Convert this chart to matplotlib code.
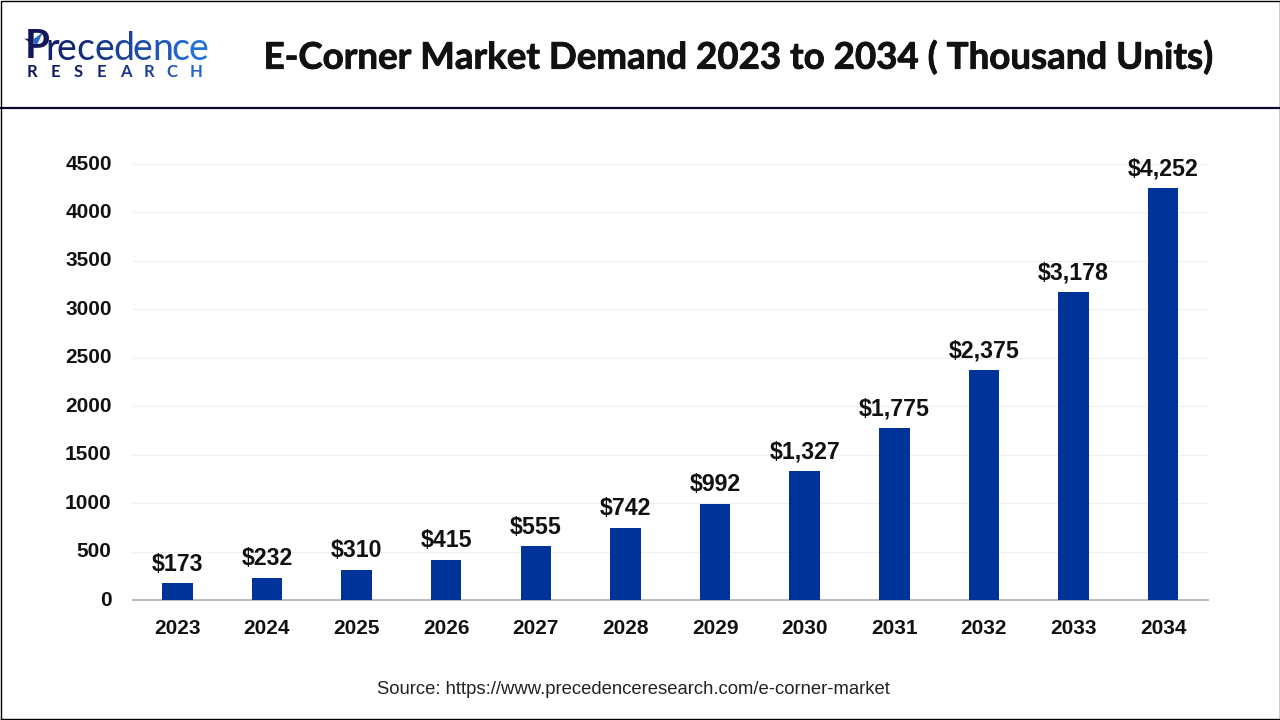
import matplotlib
matplotlib.use("Agg")
import matplotlib.pyplot as plt
import matplotlib.patheffects as pe
from matplotlib.lines import Line2D
from matplotlib.patches import Polygon

years = ['2023', '2024', '2025', '2026', '2027', '2028', '2029', '2030', '2031', '2032', '2033', '2034']
values = [173, 232, 310, 415, 555, 742, 992, 1327, 1775, 2375, 3178, 4252]
labels = ['$173', '$232', '$310', '$415', '$555', '$742', '$992', '$1,327', '$1,775', '$2,375', '$3,178', '$4,252']
y_ticks = [0, 500, 1000, 1500, 2000, 2500, 3000, 3500, 4000, 4500]

logo_top = 'recedence'
logo_top_colors = ['#14206a', '#14266f', '#152e7c', '#17388c', '#1a439c', '#1c4dac', '#1e58bc', '#2065cc', '#2270dc']
logo_bottom = 'RESEARCH'
logo_bottom_colors = ['#10185a', '#10185a', '#12206a', '#14287a', '#18348a', '#1c429c', '#2052b4', '#2464c8']

W, H = 1280, 720
fig = plt.figure(figsize=(12.8, 7.2), dpi=100)
fig.patch.set_facecolor('white')

# axes placed on the pixel box of the plot area
ax = fig.add_axes([132.5 / W, 1 - 600 / H, (1208 - 132.5) / W, (600 - 164) / H])
ax.bar(range(12), values, width=0.34, color='#00339a', zorder=3)
ax.set_xlim(-0.5, 11.5)
ax.set_ylim(0, 4500)
ax.set_yticks(y_ticks)
ax.set_xticks(range(12))
ax.set_xticklabels(years)
ax.tick_params(axis='both', length=0, labelsize=15, labelcolor='#111111')
ax.tick_params(axis='x', pad=13.5)
ax.tick_params(axis='y', pad=15)
for t in ax.get_xticklabels() + ax.get_yticklabels():
    t.set_family('Liberation Sans')
    t.set_fontweight('bold')
for t in ax.get_yticklabels():
    t.set_verticalalignment('center')
ax.grid(axis='y', color='#efefef', linewidth=0.8, zorder=0)
for s in ['top', 'left', 'right']:
    ax.spines[s].set_visible(False)
ax.spines['bottom'].set_color('#bdbdbd')
ax.spines['bottom'].set_linewidth(1.5)

for i, v in enumerate(values):
    ax.annotate(labels[i], (i, v), xytext=(0, 5.5), textcoords='offset points', ha='center', va='bottom',
                fontsize=16.7, fontweight='bold', family='Liberation Sans', color='#111111', zorder=4)

# header, frame and source
title = fig.text(737.5 / W, 1 - 57.5 / H, 'E-Corner Market Demand 2023 to 2034 ( Thousand Units)', ha='center', va='center',
                 fontsize=26.4, fontweight='bold', family='Lato', color='#111111')
title.set_path_effects([pe.withStroke(linewidth=0.6, foreground='#111111')])
fig.text(633.5 / W, 1 - 690 / H, 'Source: https://www.precedenceresearch.com/e-corner-market', ha='center', va='center',
         fontsize=13.35, family='Liberation Sans', color='#222222')
fig.add_artist(Line2D([0, 1], [1 - 108 / H] * 2, color='#0a0a30', linewidth=1.6))
fig.add_artist(Line2D([0.5 / W, 0.5 / W, 1 - 0.5 / W, 1 - 0.5 / W, 0.5 / W],
                      [1.5 / H, 1 - 0.5 / H, 1 - 0.5 / H, 1.5 / H, 1.5 / H], color='black', linewidth=1))

# logo
fig.text(25 / W, 1 - 58 / H, 'P', fontsize=29, fontweight='bold', family='Lato', color='#10185a', va='baseline')
fig.add_artist(Polygon([(23 / W, 1 - 38 / H), (33 / W, 1 - 39 / H), (33 / W, 1 - 45 / H)], closed=True,
                       transform=fig.transFigure, facecolor='#10185a', edgecolor='white', linewidth=0.4))
fig.add_artist(Polygon([(44 / W, 1 - 31 / H), (33 / W, 1 - 39 / H), (35 / W, 1 - 50 / H)], closed=True,
                       transform=fig.transFigure, facecolor='#2a62c8', edgecolor='white', linewidth=0.6))
x = 45
logo_steps = [12, 19, 18, 19, 20, 19, 19, 17, 17]
for ch, col, step in zip(logo_top, logo_top_colors, logo_steps):
    fig.text(x / W, 1 - 60 / H, ch, fontsize=27, family='Lato', color=col, va='baseline')
    x += step
x = 27
for ch, col in zip(logo_bottom, logo_bottom_colors):
    fig.text(x / W, 1 - 77 / H, ch, fontsize=12, fontweight='bold', family='Lato', color=col, va='baseline')
    x += 23.3

fig.savefig('out.png', dpi=100)
